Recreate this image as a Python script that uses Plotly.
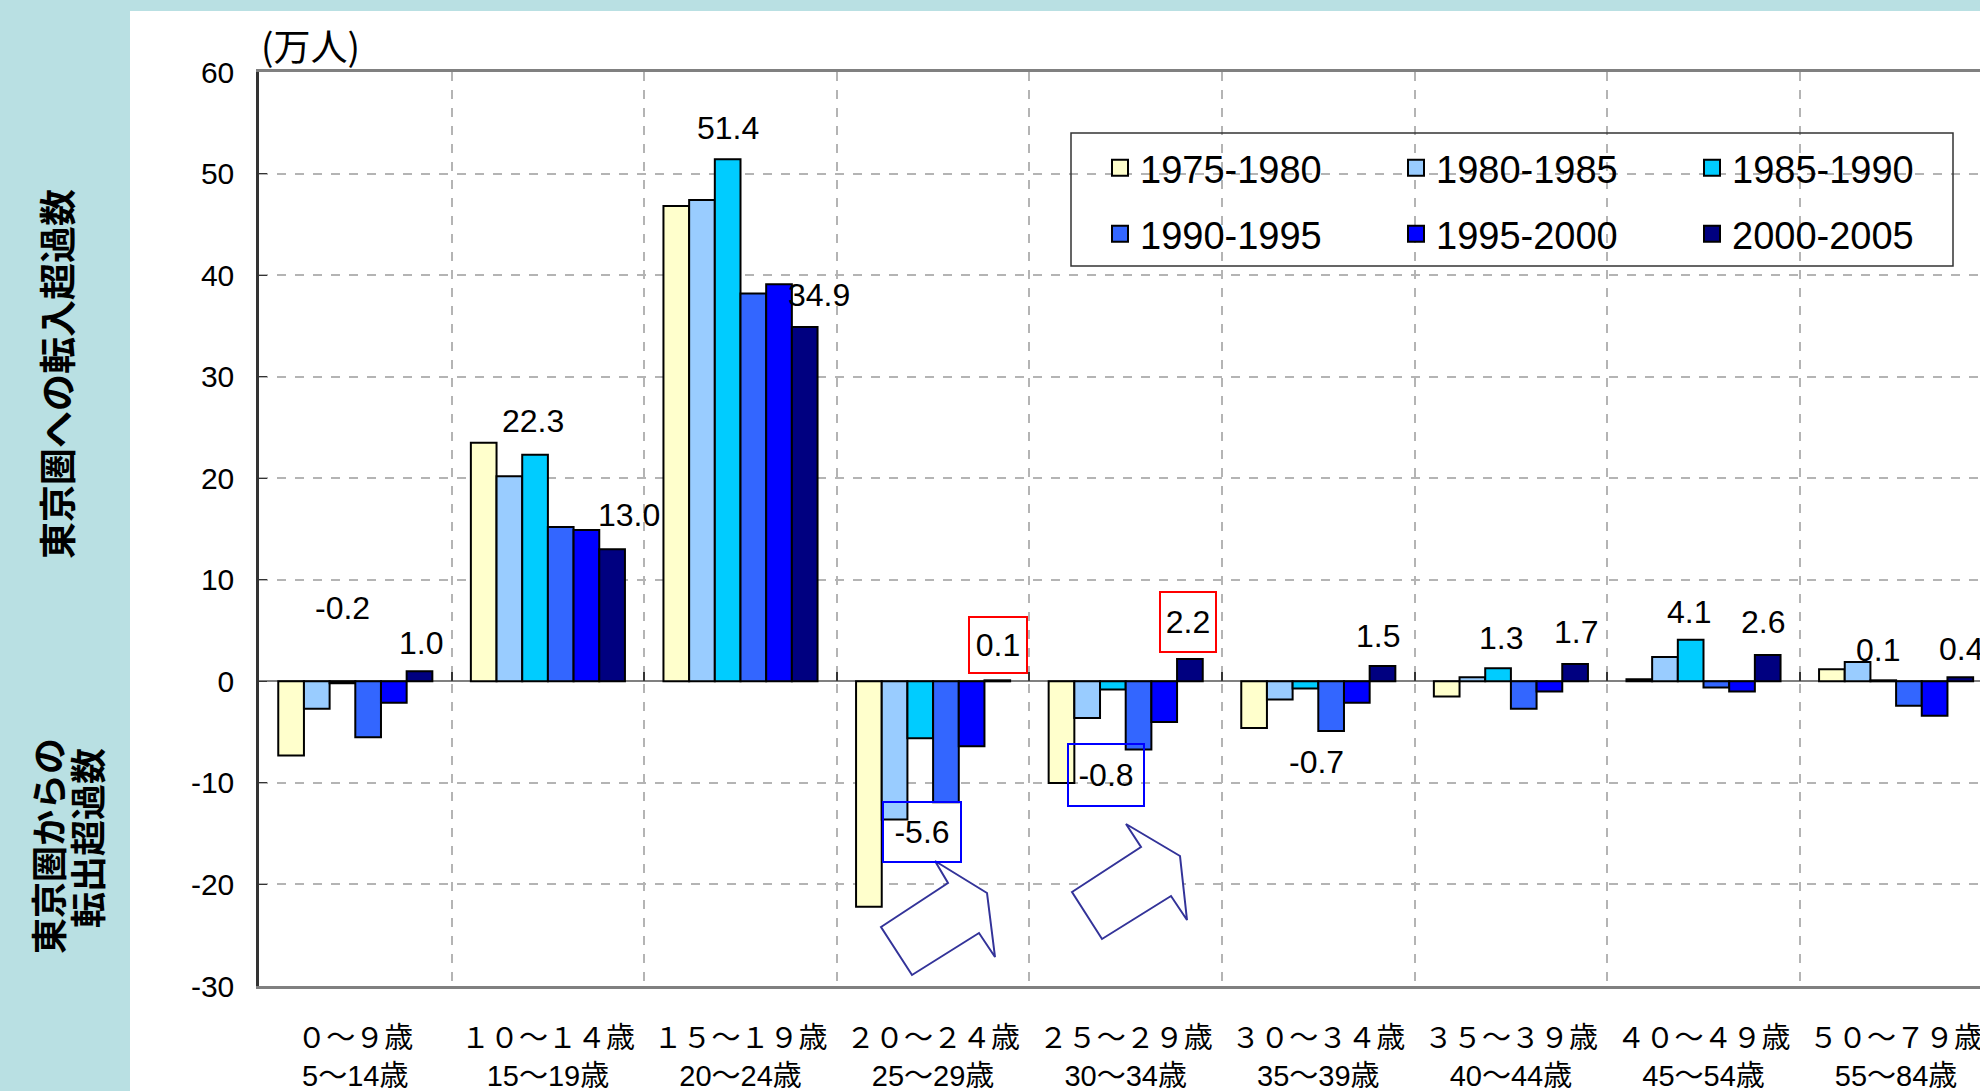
import plotly.graph_objects as go

# ---------------- data ----------------
age_line1 = ["０～９歳", "１０～１４歳", "１５～１９歳", "２０～２４歳", "２５～２９歳",
             "３０～３４歳", "３５～３９歳", "４０～４９歳", "５０～７９歳"]
age_line2 = ["5～14歳", "15～19歳", "20～24歳", "25～29歳", "30～34歳",
             "35～39歳", "40～44歳", "45～54歳", "55～84歳"]
series_names = ["1975-1980", "1980-1985", "1985-1990", "1990-1995", "1995-2000", "2000-2005"]

v1975_1980 = [-7.3, 23.5, 46.8, -22.2, -10.0, -4.6, -1.5, 0.2, 1.2]
v1980_1985 = [-2.7, 20.2, 47.4, -13.6, -3.6, -1.8, 0.4, 2.4, 1.9]
v1985_1990 = [-0.2, 22.3, 51.4, -5.6, -0.8, -0.7, 1.3, 4.1, 0.1]
v1990_1995 = [-5.5, 15.2, 38.2, -11.9, -6.7, -4.9, -2.7, -0.6, -2.4]
v1995_2000 = [-2.1, 14.9, 39.1, -6.4, -4.0, -2.1, -1.0, -1.0, -3.4]
v2000_2005 = [1.0, 13.0, 34.9, 0.1, 2.2, 1.5, 1.7, 2.6, 0.4]

y_ticks = [-30, -20, -10, 0, 10, 20, 30, 40, 50, 60]
unit_label = "(万人)"
title_in = "東京圏への転入超過数"
title_out_1 = "東京圏からの"
title_out_2 = "転出超過数"

# ---------------- style ----------------
colors = ["#FFFFCC", "#99CCFF", "#00CCFF", "#3366FF", "#0000FF", "#000080"]
FONT = "Liberation Sans, Arial, Noto Sans CJK JP, sans-serif"
JFONT = "Noto Sans CJK JP, sans-serif"
TEAL = "#B9E0E3"

W, H = 1980, 1091
L, R, T, B = 259, 1980, 72, 986          # plot area in pixels
CAT_W = 192.6                             # pixel width of one category
x_hi = -0.5 + (R - L) / CAT_W


def px(x):
    return (x - L) / (R - L)


def py(y):
    return (B - y) / (B - T)


categories = [f"{a}<br>{b}" for a, b in zip(age_line1, age_line2)]
all_series = [v1975_1980, v1980_1985, v1985_1990, v1990_1995, v1995_2000, v2000_2005]

fig = go.Figure()
for i, (name, vals, col) in enumerate(zip(series_names, all_series, colors)):
    fig.add_trace(go.Bar(
        x=categories, y=vals, name=name, legendgroup=name, showlegend=False,
        marker=dict(color=col, line=dict(color="black", width=2)),
    ))
# legend entries (larger square swatches than the default bar swatch)
for i, (name, col) in enumerate(zip(series_names, colors)):
    fig.add_trace(go.Scatter(
        x=[None], y=[None], mode="markers", name=name, legendgroup=name,
        marker=dict(symbol="square", size=16, color=col, line=dict(color="black", width=2)),
        legend="legend" if i < 3 else "legend2", hoverinfo="skip",
    ))

# dummy trace for the tick axis on the zero line
fig.add_trace(go.Scatter(x=[None], y=[None], xaxis="x2", yaxis="y",
                         showlegend=False, hoverinfo="skip"))

# ---------------- value labels ----------------
n_series = len(series_names)
bar_w = 0.8 / n_series


def bar_center(cat, s):
    return cat - 0.4 + (s + 0.5) * bar_w


# (category index, series index, x shift, label y, box colour)
label_spec = [
    (0, 2, 0.0, 7.2, None), (1, 2, -0.01, 25.6, None), (2, 2, 0.0, 54.5, None),
    (3, 2, 0.01, -14.8, "#0000FF"), (4, 2, -0.035, -9.2, "#0000FF"),
    (5, 2, 0.056, -7.9, None), (6, 2, 0.013, 4.3, None), (7, 2, -0.01, 6.8, None),
    (8, 2, -0.026, 3.1, None),
    (0, 5, 0.006, 3.8, None), (1, 5, 0.088, 16.4, None), (2, 5, 0.072, 38.0, None),
    (3, 5, 0.004, 3.6, "#FF0000"), (4, 5, -0.012, 5.8, "#FF0000"),
    (5, 5, -0.023, 4.5, None), (6, 5, 0.006, 4.9, None), (7, 5, -0.023, 5.8, None),
    (8, 5, 0.006, 3.2, None),
]
box_sizes = {(3, 5): (56, 54), (4, 5): (54, 58), (3, 2): (76, 58), (4, 2): (74, 60)}

annotations = []
for cat, s, dx, ly, box in label_spec:
    val = all_series[s][cat]
    a = dict(x=bar_center(cat, s) + dx, y=ly, xref="x", yref="y",
             xanchor="center", yanchor="middle",
             text=f"{val:.1f}", showarrow=False,
             font=dict(size=32, family=FONT, color="black"))
    if box:
        bw, bh = box_sizes[(cat, s)]
        a.update(bordercolor=box, borderwidth=2, borderpad=0, width=bw, height=bh,
                 bgcolor="rgba(255,255,255,0)")
    annotations.append(a)


def paper_text(x, y, text, size, angle=0, family=JFONT):
    return dict(x=px(x), y=py(y), xref="paper", yref="paper", text=text,
                xanchor="center", yanchor="middle", textangle=angle, showarrow=False,
                font=dict(size=size, family=family, color="black"))


annotations.append(paper_text(310, 45, unit_label, 37))
annotations.append(paper_text(56, 374, f"<b>{title_in}</b>", 37, -90))
annotations.append(paper_text(47, 846, f"<b>{title_out_1}</b>", 36, -90))
annotations.append(paper_text(86, 838, f"<b>{title_out_2}</b>", 36, -90))

# ---------------- shapes ----------------
shapes = [
    dict(type="rect", xref="paper", yref="paper", x0=px(130), x1=px(1990),
         y0=py(1100), y1=py(11), fillcolor="white", line=dict(width=0), layer="below"),
    dict(type="rect", xref="paper", yref="paper", x0=px(1071), x1=px(1953),
         y0=py(266), y1=py(133), fillcolor="rgba(255,255,255,0)",
         line=dict(color="#333333", width=1.5)),
]


def arrow_path(pts):
    return "M " + " L ".join(f"{px(x)},{py(y)}" for x, y in pts) + " Z"


arrow1 = [(881, 927), (948, 883), (935, 861), (987, 893), (995, 957), (979, 933), (912, 975)]
arrow2 = [(1072, 892), (1141, 847), (1126, 824), (1180, 856), (1187, 920), (1171, 896), (1102, 939)]
for pts in (arrow1, arrow2):
    shapes.append(dict(type="path", xref="paper", yref="paper", path=arrow_path(pts),
                       fillcolor="white", line=dict(color="#333399", width=2)))

legend_common = dict(orientation="h", xanchor="left", yanchor="middle",
                     bgcolor="rgba(0,0,0,0)", borderwidth=0,
                     font=dict(size=38, family=FONT, color="black"),
                     entrywidth=251, entrywidthmode="pixels", itemwidth=30,
                     traceorder="normal")

fig.update_layout(
    width=W, height=H,
    margin=dict(l=L, r=W - R, t=T, b=H - B, pad=0, autoexpand=False),
    paper_bgcolor=TEAL, plot_bgcolor="white",
    barmode="group", bargap=0.2, bargroupgap=0,
    font=dict(family=FONT, color="black"),
    legend=dict(x=px(1100), y=py(168), **legend_common),
    legend2=dict(x=px(1100), y=py(234), **legend_common),
    xaxis=dict(type="category", range=[-0.5, x_hi], tickson="boundaries",
               showgrid=True, gridcolor="#B4B4B4", griddash="dash", gridwidth=1.5,
               showline=True, linecolor="#808080", linewidth=3, mirror=True,
               ticks="", tickangle=0, tickfont=dict(size=29, family=FONT, color="black"),
               ticklabelstandoff=24, automargin=False),
    xaxis2=dict(type="linear", overlaying="x", anchor="free", position=1 / 3,
                range=[-0.5, x_hi], tick0=0.5, dtick=1, ticks="inside", ticklen=9,
                tickwidth=1.5, tickcolor="#333333", showticklabels=False,
                showgrid=False, showline=False, zeroline=False),
    yaxis=dict(range=[-30, 60], tickvals=y_ticks, ticktext=[str(v) for v in y_ticks],
               showgrid=True, gridcolor="#B4B4B4",
               griddash="dash", gridwidth=1.5, zeroline=True, zerolinecolor="#808080",
               zerolinewidth=1.5, showline=True, linecolor="#333333", linewidth=2.5,
               ticks="inside", ticklen=8, tickcolor="#333333",
               tickfont=dict(size=30, family=FONT, color="black"),
               ticklabelstandoff=16, automargin=False),
    annotations=annotations,
    shapes=shapes,
)

fig.write_html(
    "out.html",
    config={"displayModeBar": False},
    post_script="document.body.style.margin='0';document.body.style.overflow='hidden';"
                "document.body.style.background='" + TEAL + "';",
)
